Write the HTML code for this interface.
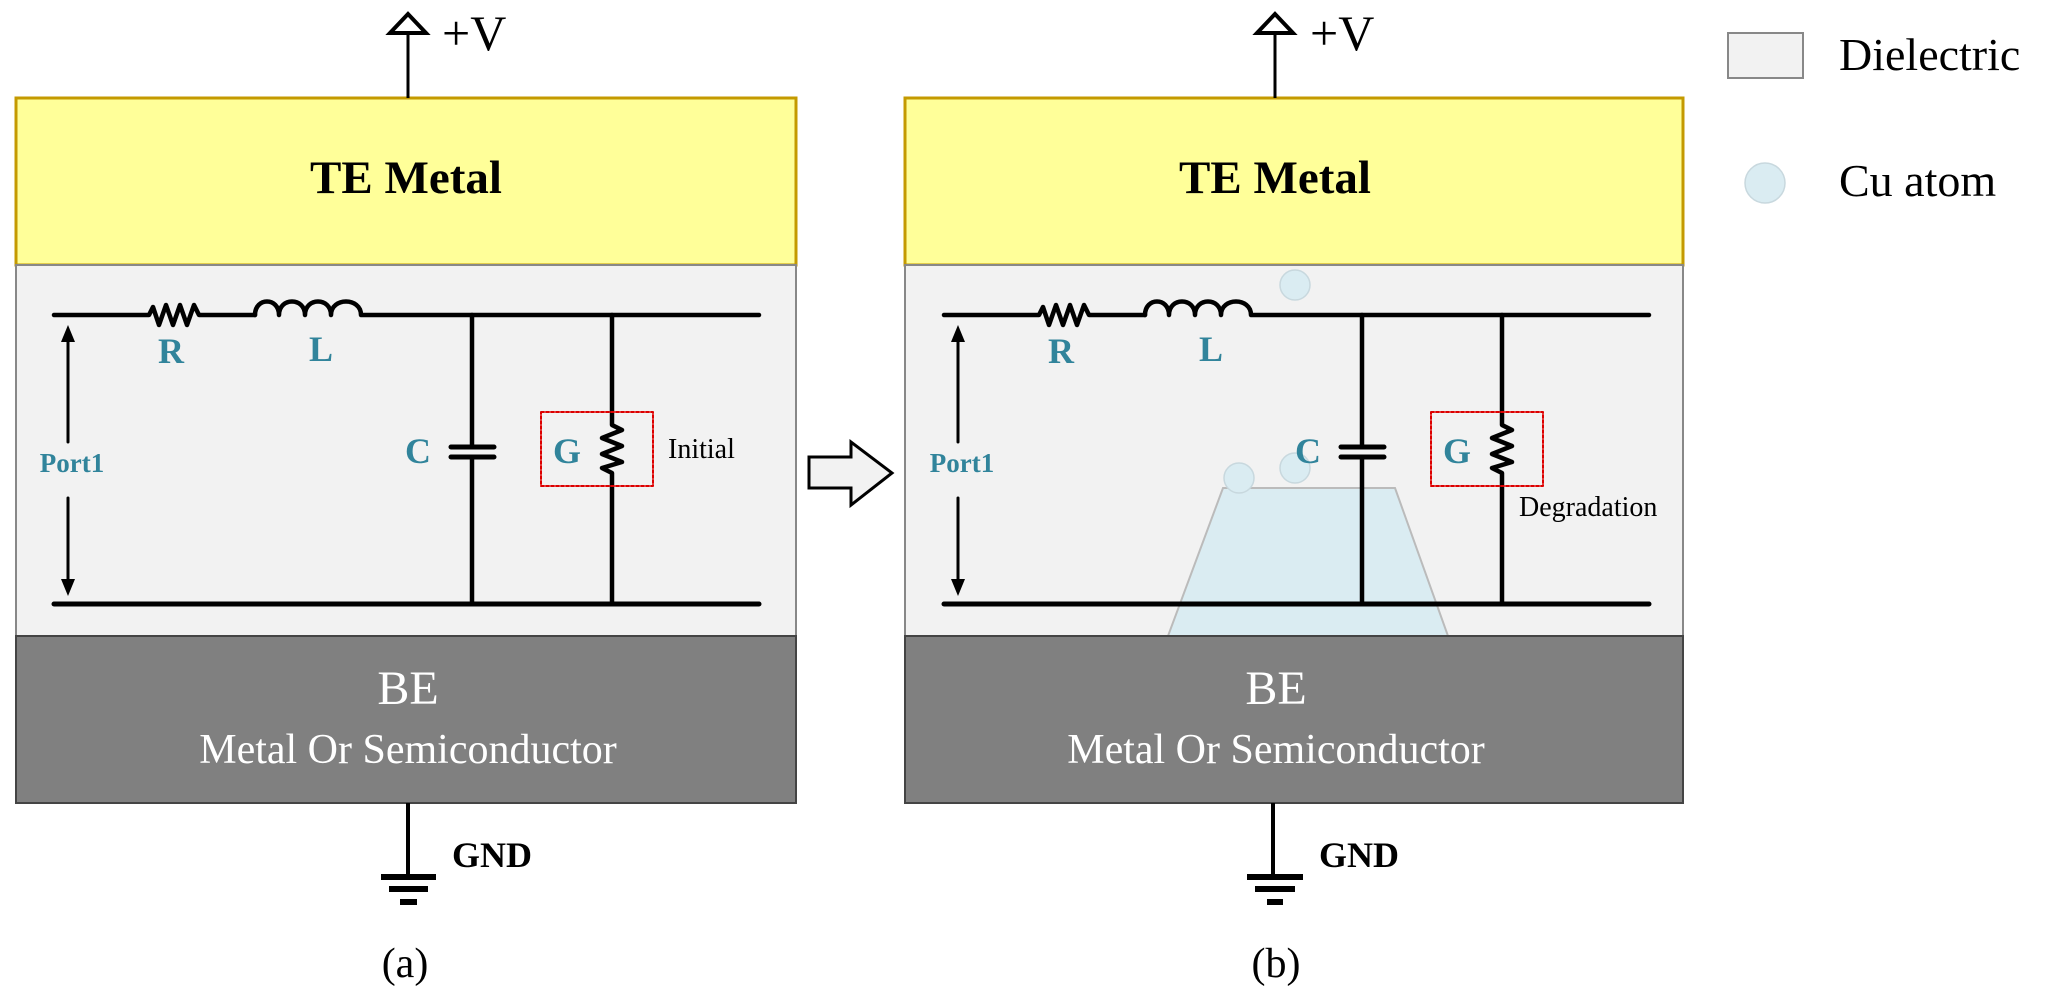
<!DOCTYPE html>
<html><head><meta charset="utf-8"><style>
html,body{margin:0;padding:0;background:#fff;}
svg{display:block;}
text{font-family:"Liberation Serif",serif;}
</style></head><body>
<svg width="2052" height="999" viewBox="0 0 2052 999" xmlns="http://www.w3.org/2000/svg">
<defs>
<g id="circ" fill="none" stroke="#000" stroke-linecap="round" stroke-linejoin="round">
  <path d="M54,315 H149 L153,307 L159,325 L166,305 L173,325 L180,305 L187,325 L194,305 L199,315 H255" stroke-width="4.5"/>
  <path d="M255,315 C255,297 279,297 279,315 C279,297 305,297 305,315 C305,297 331,297 331,315 C331,297 361,297 361,315 H759" stroke-width="4.5"/>
  <path d="M54,604 H759" stroke-width="5"/>
  <path d="M472,315 V447 M472,457 V604" stroke-width="4.5"/>
  <path d="M451,447 H494 M451,457 H494" stroke-width="5"/>
  <path d="M612,315 V425 L622,430 L602,438 L622,446 L602,454 L622,462 L602,468 L612,473 V604" stroke-width="4.5"/>
  <path d="M68,338 V442 M68,498 V584" stroke-width="3"/>
  <polygon points="68,325 61,342 75,342" fill="#000" stroke="none"/>
  <polygon points="68,596 61,579 75,579" fill="#000" stroke="none"/>
  <rect x="541" y="412" width="112" height="74" stroke="#d00" stroke-width="2" stroke-dasharray="3,2"/>
</g>
<g id="lbl" font-weight="bold" fill="#31849b">
  <text x="171" y="363" font-size="36" text-anchor="middle">R</text>
  <text x="321" y="361" font-size="36" text-anchor="middle">L</text>
  <text x="418" y="463" font-size="36" text-anchor="middle">C</text>
  <text x="567" y="463" font-size="36" text-anchor="middle">G</text>
  <text x="72" y="472" font-size="27" text-anchor="middle">Port1</text>
</g>
</defs>

<!-- Panel a -->
<rect x="16" y="98" width="780" height="167" fill="#ffff99" stroke="#c49a00" stroke-width="3"/>
<rect x="16" y="265" width="780" height="371" fill="#f2f2f2" stroke="#888" stroke-width="2"/>
<rect x="16" y="636" width="780" height="167" fill="#808080" stroke="#444" stroke-width="2"/>
<text x="406" y="193" font-size="47" font-weight="bold" text-anchor="middle">TE  Metal</text>
<path d="M408,98 V33" stroke="#000" stroke-width="3"/>
<polygon points="408,14 390,33 426,33" fill="#fff" stroke="#000" stroke-width="4" stroke-linejoin="miter"/>
<text x="442" y="50" font-size="50">+V</text>
<use href="#circ"/>
<use href="#lbl"/>
<text x="668" y="458" font-size="28">Initial</text>
<text x="408" y="704" font-size="48" fill="#fff" text-anchor="middle">BE</text>
<text x="408" y="763" font-size="42" fill="#fff" text-anchor="middle">Metal Or Semiconductor</text>
<path d="M408,803 V877" stroke="#000" stroke-width="4"/>
<rect x="381" y="874" width="55" height="6" fill="#000"/>
<rect x="389" y="886" width="39" height="6" fill="#000"/>
<rect x="400" y="899" width="17" height="6" fill="#000"/>
<text x="452" y="867" font-size="36" font-weight="bold">GND</text>
<text x="405" y="977" font-size="42" text-anchor="middle">(a)</text>

<!-- middle arrow -->
<polygon points="809,457 851,457 851,442 892,473 851,505 851,488 809,488" fill="#f2f2f2" stroke="#000" stroke-width="3"/>

<!-- Panel b -->
<rect x="905" y="98" width="778" height="167" fill="#ffff99" stroke="#c49a00" stroke-width="3"/>
<rect x="905" y="265" width="778" height="371" fill="#f2f2f2" stroke="#888" stroke-width="2"/>
<polygon points="1223,488 1395,488 1448,636 1168,636" fill="#daecf2" stroke="#bbb" stroke-width="2"/>
<rect x="905" y="636" width="778" height="167" fill="#808080" stroke="#444" stroke-width="2"/>
<text x="1275" y="193" font-size="47" font-weight="bold" text-anchor="middle">TE  Metal</text>
<path d="M1275,98 V33" stroke="#000" stroke-width="3"/>
<polygon points="1275,14 1257,33 1293,33" fill="#fff" stroke="#000" stroke-width="4"/>
<text x="1310" y="50" font-size="50">+V</text>
<g fill="#daecf2" stroke="#c8d8de" stroke-width="1.5">
  <circle cx="1295" cy="285" r="15"/>
  <circle cx="1239" cy="478" r="15"/>
  <circle cx="1295" cy="468" r="15"/>
</g>
<use href="#circ" transform="translate(890,0)"/>
<use href="#lbl" transform="translate(890,0)"/>
<text x="1519" y="516" font-size="28">Degradation</text>
<text x="1276" y="704" font-size="48" fill="#fff" text-anchor="middle">BE</text>
<text x="1276" y="763" font-size="42" fill="#fff" text-anchor="middle">Metal Or Semiconductor</text>
<path d="M1273,803 V877" stroke="#000" stroke-width="4"/>
<rect x="1247" y="874" width="56" height="6" fill="#000"/>
<rect x="1255" y="886" width="40" height="6" fill="#000"/>
<rect x="1267" y="899" width="16" height="6" fill="#000"/>
<text x="1319" y="867" font-size="36" font-weight="bold">GND</text>
<text x="1276" y="977" font-size="42" text-anchor="middle">(b)</text>

<!-- Legend -->
<rect x="1728" y="33" width="75" height="45" fill="#f2f2f2" stroke="#888" stroke-width="2"/>
<text x="1839" y="70" font-size="46">Dielectric</text>
<ellipse cx="1765" cy="183" rx="20" ry="20" fill="#daecf2" stroke="#c8d8de" stroke-width="1.5"/>
<text x="1839" y="196" font-size="46">Cu atom</text>
</svg>
</body></html>
